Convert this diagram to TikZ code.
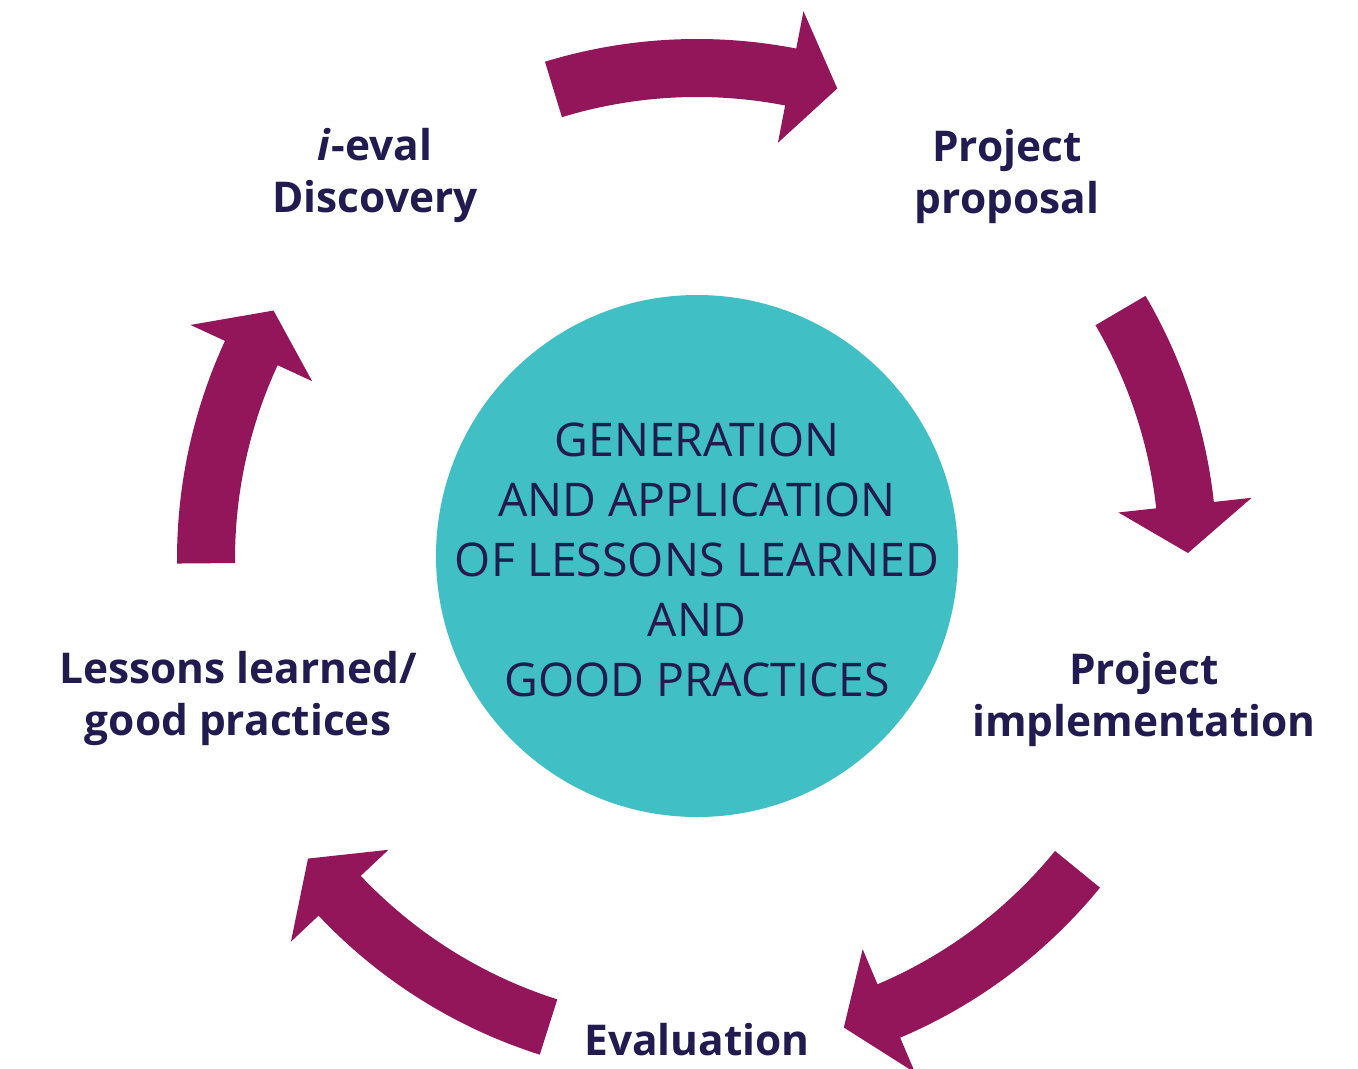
\documentclass[tikz,border=0pt]{standalone}
\usepackage{fontspec}
\setmainfont{Open Sans}
\usetikzlibrary{calc}
\definecolor{arrowpurple}{RGB}{147,21,90}
\definecolor{hubteal}{RGB}{64,191,197}
\definecolor{inknavy}{RGB}{34,27,80}
\newcommand\cyclearrow[3]{%
  \fill[arrowpurple] ($(O)+(#1:462)$) arc[start angle=#1, end angle=#2, radius=462]
    -- ($(O)+(#2:424)$) -- ($(O)+(#3:491)$) -- ($(O)+(#2:558)$) -- ($(O)+(#2:520)$)
    arc[start angle=#2, end angle=#1, radius=520] -- cycle;}
\begin{document}
\begin{tikzpicture}[x=0.5pt,y=-0.5pt,
  stagelabel/.style={text=inknavy, font=\fontsize{21.2}{26}\selectfont\bfseries, align=center, inner sep=0pt},
  hubtext/.style={text=inknavy, font=\fontsize{23.2}{30}\selectfont, align=center, inner sep=0pt}]
\useasboundingbox (0,0) rectangle (1358,1069);
\coordinate (O) at (697,559);
\node[circle, fill=hubteal, minimum size=261pt, inner sep=0pt] (hub) at (697,556) {};
\node[hubtext] (hubtxt) at (697,560) {GENERATION\\AND APPLICATION\\OF LESSONS LEARNED\\AND\\GOOD PRACTICES};
\node[stagelabel] (discovery) at (375,175) {\textit{i}-eval\\Discovery};
\node[stagelabel] (proposal) at (1007,176) {Project\\proposal};
\node[stagelabel] (implementation) at (1144,699) {Project\\implementation};
\node[stagelabel, anchor=base] (evaluation) at (697,1055) {Evaluation};
\node[stagelabel] (lessons) at (238,698) {Lessons learned/\\good practices};
\cyclearrow{-107}{-79}{-73.4}
\cyclearrow{-30.4}{-6.3}{-0.7}
\cyclearrow{39.2}{67}{72.6}
\cyclearrow{107.6}{136.7}{142.4}
\cyclearrow{179.5}{204.8}{210.4}
\end{tikzpicture}
\end{document}
